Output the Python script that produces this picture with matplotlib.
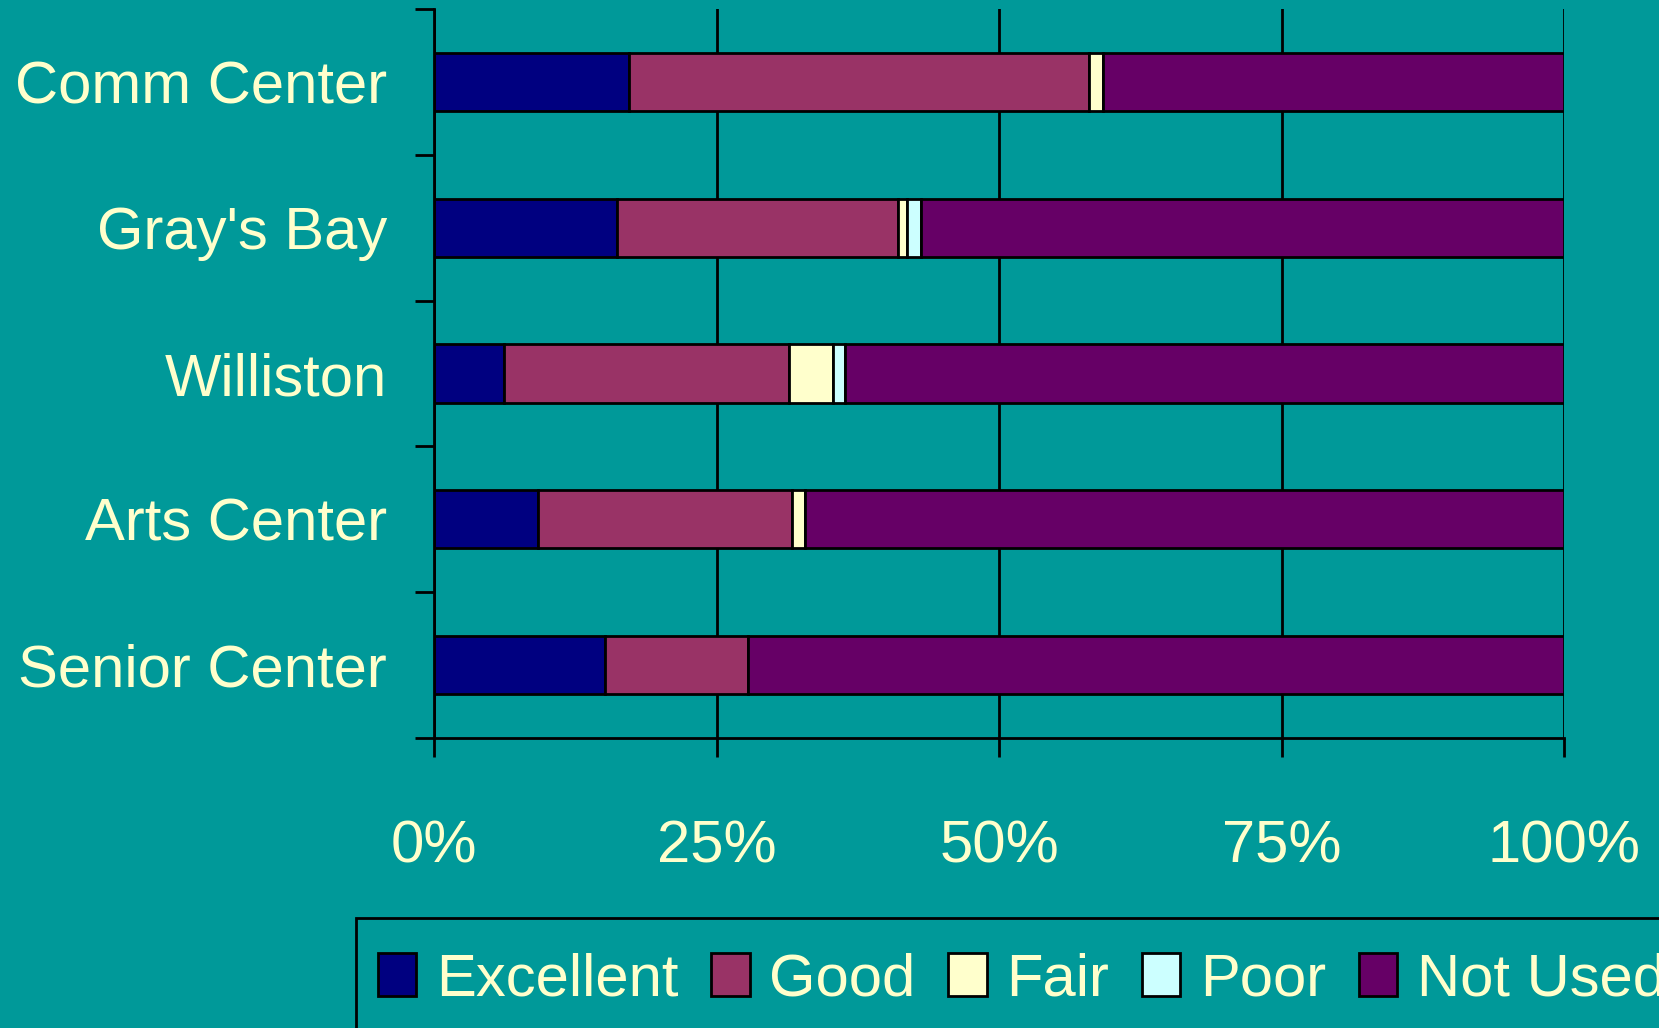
import matplotlib
matplotlib.use("Agg")
import matplotlib.pyplot as plt
from matplotlib.patches import Rectangle
import numpy as np

categories = ["Comm Center", "Gray's Bay", "Williston", "Arts Center", "Senior Center"]
series_names = ["Excellent", "Good", "Fair", "Poor", "Not Used"]
excellent = [17.3, 16.2, 6.2, 9.2, 15.1]
good = [40.7, 24.9, 25.2, 22.5, 12.7]
fair = [1.2, 0.8, 3.9, 1.1, 0.0]
poor = [0.0, 1.2, 1.1, 0.0, 0.0]
not_used = [40.8, 56.9, 63.6, 67.2, 72.2]
xtick_values = [0, 25, 50, 75, 100]
xtick_labels = ["0%", "25%", "50%", "75%", "100%"]

colors = ["#000080", "#993366", "#FFFFCC", "#CCFFFF", "#660066"]
bg = "#009999"
txt = "#FFFFCC"

plt.rcParams['font.family'] = ['Liberation Sans', 'DejaVu Sans']
FS = 43
LW = 2.0

fig = plt.figure(figsize=(16.59, 10.28), dpi=100)
fig.patch.set_facecolor(bg)
ax = fig.add_axes([434/1659, 1-738/1028, (1564-434)/1659, (738-9)/1028])
ax.set_facecolor(bg)

y = np.arange(len(categories))
left = np.zeros(len(categories))
handles = []
for name, vals, c in zip(series_names, [excellent, good, fair, poor, not_used], colors):
    vals = np.array(vals)
    h = ax.barh(y, vals, left=left, height=0.4, color=c, edgecolor="black", linewidth=LW, label=name, zorder=3)
    handles.append(h)
    left += vals

ax.set_xlim(0, 100)
ax.set_ylim(4.5, -0.5)
ax.set_xticks(xtick_values)
ax.set_xticklabels(xtick_labels)
ax.set_yticks(y)
ax.set_yticklabels(categories)
ax.set_yticks(np.arange(-0.5, 5.0, 1.0), minor=True)

ax.grid(axis="x", color="black", linewidth=LW, zorder=1)
ax.tick_params(axis="y", which="major", length=0, pad=34, labelsize=FS, labelcolor=txt)
ax.tick_params(axis="y", which="minor", length=14, width=LW, color="black", direction="out")
ax.tick_params(axis="x", which="major", length=14, width=LW, color="black", direction="out", pad=45, labelsize=FS, labelcolor=txt)

for s in ["top", "right"]:
    ax.spines[s].set_visible(False)
for s in ["left", "bottom"]:
    ax.spines[s].set_linewidth(LW)
    ax.spines[s].set_color("black")
    ax.spines[s].set_zorder(4)

# legend frame (extends past the figure edge as in the reference)
frame = Rectangle((356/1659, -0.05), 1.0, (1-918/1028) + 0.05, transform=fig.transFigure,
                  facecolor=bg, edgecolor="black", linewidth=LW, zorder=0)
fig.patches.append(frame)

leg = fig.legend(handles=handles, labels=series_names, loc="upper left",
                 bbox_to_anchor=(356/1659, 1-930/1028), ncol=5, fontsize=FS,
                 frameon=False,
                 handlelength=0.64, handleheight=0.72, handletextpad=0.33,
                 columnspacing=0.55, borderpad=0.37, borderaxespad=0)
for t in leg.get_texts():
    t.set_color(txt)
for p in leg.legend_handles:
    p.set_linewidth(LW)

fig.savefig("out.png", dpi=100, facecolor=bg)
